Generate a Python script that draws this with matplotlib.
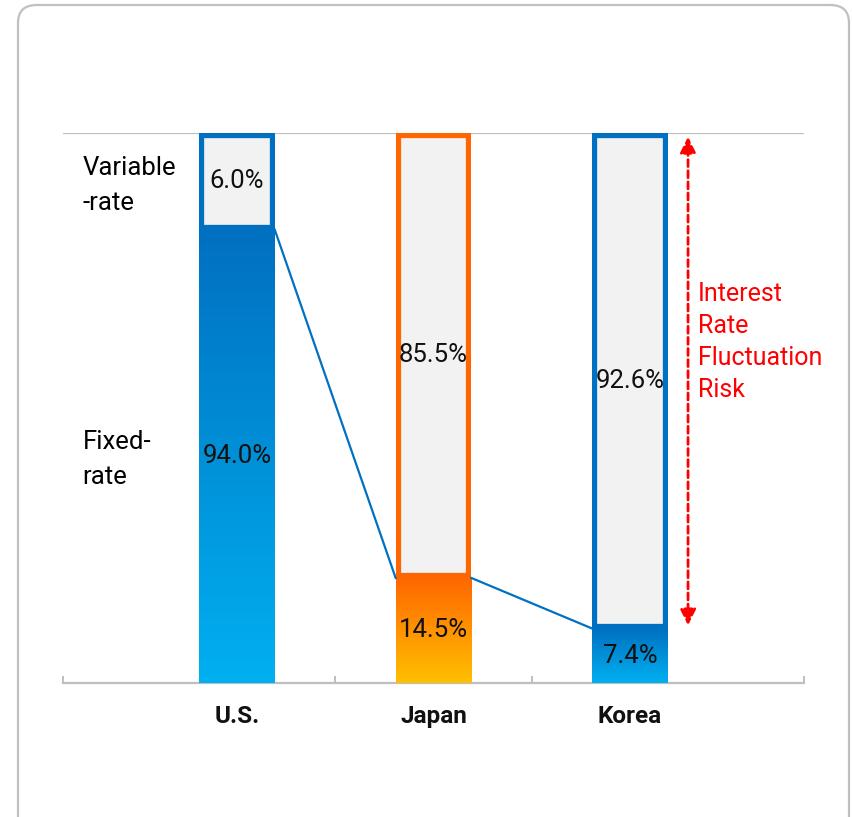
import numpy as np
import matplotlib
matplotlib.use('Agg')
import matplotlib.pyplot as plt
from matplotlib.colors import LinearSegmentedColormap
from matplotlib.patches import Rectangle, FancyBboxPatch

plt.rcParams['font.family'] = ['Roboto', 'DejaVu Sans']

# data
countries = ['U.S.', 'Japan', 'Korea']
fixed_labels = ['94.0%', '14.5%', '7.4%']
variable_labels = ['6.0%', '85.5%', '92.6%']
# drawn height of the fixed-rate part (chart is not to scale)
fixed_height = [82.4, 19.1, 9.9]
box_colors = ['#0070C0', '#FF6600', '#0070C0']
grad_top = ['#0070C0', '#FF6600', '#0070C0']
grad_bottom = ['#00B0F0', '#FFC000', '#00B0F0']

W, H = 852, 817
fig = plt.figure(figsize=(W / 100, H / 100), dpi=100)

# rounded frame
frame = FancyBboxPatch((18 / W, -0.05), 831 / W, 1.05 - 5 / H,
                       boxstyle='round,pad=0,rounding_size=0.022',
                       transform=fig.transFigure, facecolor='white',
                       edgecolor='#C0C0C0', linewidth=1.6, zorder=-5)
fig.patches.append(frame)

ax = fig.add_axes([63 / W, 134 / H, 741 / W, 550 / H])
ax.set_facecolor('none')

x = np.arange(len(countries))
bw = 0.385
xlo, xhi = -0.885, 2.885
fs = 18.5

for i in range(len(countries)):
    x0 = x[i] - bw / 2
    h = fixed_height[i]
    # variable-rate box
    box = Rectangle((x0, h), bw, 100 - h, facecolor='#F2F2F2',
                    edgecolor=box_colors[i], linewidth=7.4, zorder=3)
    ax.add_patch(box)
    box.set_clip_path(box)
    # fixed-rate gradient bar
    cmap = LinearSegmentedColormap.from_list('g%d' % i, [grad_bottom[i], grad_top[i]])
    grad = np.linspace(0, 1, 256).reshape(-1, 1)
    ax.imshow(grad, extent=[x0, x0 + bw, 0, h], origin='lower', aspect='auto',
              cmap=cmap, zorder=4)
    ax.text(x[i], h / 2, fixed_labels[i], ha='center', va='center',
            fontsize=fs, color='#111111', zorder=6)
    ax.text(x[i], (h + 100) / 2, variable_labels[i], ha='center', va='center',
            fontsize=fs, color='#111111', zorder=6)

# connecting lines between fixed-rate tops
for i in range(len(countries) - 1):
    ax.plot([x[i] + bw / 2, x[i + 1] - bw / 2],
            [fixed_height[i], fixed_height[i + 1]],
            color='#0070C0', linewidth=1.6, zorder=5)

# top reference line
ax.axhline(100, color='#BFBFBF', linewidth=1.6, zorder=1)

# left side labels
ax.annotate('Variable\n-rate', xy=(x[0] - 0.785, (fixed_height[0] + 100) / 2),
            xytext=(0, -4), textcoords='offset pixels',
            ha='left', va='center', fontsize=fs, linespacing=1.57)
ax.annotate('Fixed-\nrate', xy=(x[0] - 0.785, fixed_height[0] / 2),
            xytext=(0, -3), textcoords='offset pixels',
            ha='left', va='center', fontsize=fs, linespacing=1.57)

# risk arrow
ax_x = x[2] + 0.295
ax.annotate('', xy=(ax_x, 99.3), xytext=(ax_x, fixed_height[2] + 0.6),
            arrowprops=dict(arrowstyle='<|-|>', color='#FF0000', lw=2,
                            linestyle=(0, (2.5, 1.5)), mutation_scale=24,
                            shrinkA=0, shrinkB=0))
ax.text(ax_x + 0.05, 62.0, 'Interest\nRate\nFluctuation\nRisk', color='#FF0000',
        ha='left', va='center', fontsize=18, linespacing=1.42)

ax.set_xlim(xlo, xhi)
ax.set_ylim(0, 100)
ax.set_yticks([])
for s in ['top', 'left', 'right']:
    ax.spines[s].set_visible(False)
ax.spines['bottom'].set_color('#BFBFBF')
ax.spines['bottom'].set_linewidth(1.6)
ax.set_xticks([xlo, 0.5, 1.5, xhi])
ax.set_xticklabels([])
ax.tick_params(axis='x', which='major', direction='in', length=5,
               width=1.4, color='#BFBFBF')
ax.set_xticks(x, minor=True)
ax.set_xticklabels(countries, minor=True, fontsize=17.5, fontweight='bold',
                   color='#111111')
ax.tick_params(axis='x', which='minor', length=0, pad=16)

fig.savefig('out.png', dpi=100)
